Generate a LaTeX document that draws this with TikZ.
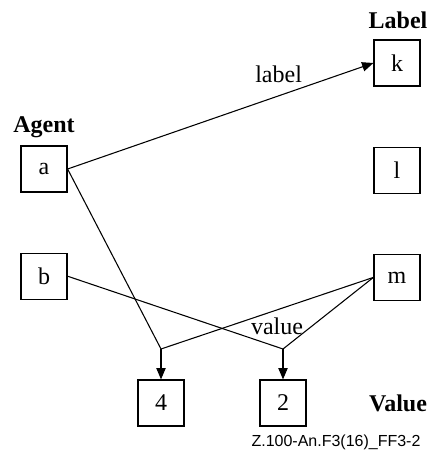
\documentclass[tikz,border=0pt]{standalone}
\usepackage{fontspec}
\setmainfont{Liberation Serif}
\newfontfamily\figidfont{Liberation Sans}
\usetikzlibrary{arrows.meta,positioning}

\begin{document}
\begin{tikzpicture}[x=0.75pt,y=-0.75pt,font=\fontsize{18}{21}\selectfont]
\tikzset{
% boxes for agents, labels and values
box/.style={draw,line width=0.9pt,minimum size=34.5pt,inner sep=0},
head/.style={font=\fontsize{18}{21}\selectfont\bfseries},
link/.style={line width=0.8pt},
arr/.style={link,-{Triangle[length=8.5pt,width=7pt]}}
}
\useasboundingbox (0,0) rectangle (428,463);

% Agent column
\node(a)[box] at (44,169) {a};
\node(b)[box,below=45pt of a] {b};
\node(ag)[head] at (44,127) {Agent};

% Label column
\node(k)[box] at (397,63) {k};
\node(l)[box,below=45pt of k] {l};
\node(m)[box,below=45pt of l] {m};
\node(lb)[head] at (398,20) {Label};

% Value row
\node(4)[box] at (161,403) {4};
\node(2)[box] at (283,403) {2};
\node(vl)[head] at (398,403) {Value};

% joins above the values
\coordinate(j4) at (161,349);
\coordinate(j2) at (283,349);

% connectors
\draw[arr] (a.east) -- node[pos=0.69,above=6pt]{label} (k.west);
\draw[link] (a.east) -- (j4);
\draw[link] (b.east) -- (j2);
\draw[link] (m.west) -- (j4);
\draw[link] (m.west) -- (j2);
\draw[arr] (j4) -- (4.north);
\draw[arr] (j2) -- (2.north);
\node(vt) at (277,326) {value};

% figure id
\node(id)[font=\figidfont\fontsize{12}{14}\selectfont] at (336,442) {Z.100-An.F3(16)\_FF3-2};
\end{tikzpicture}
\end{document}
